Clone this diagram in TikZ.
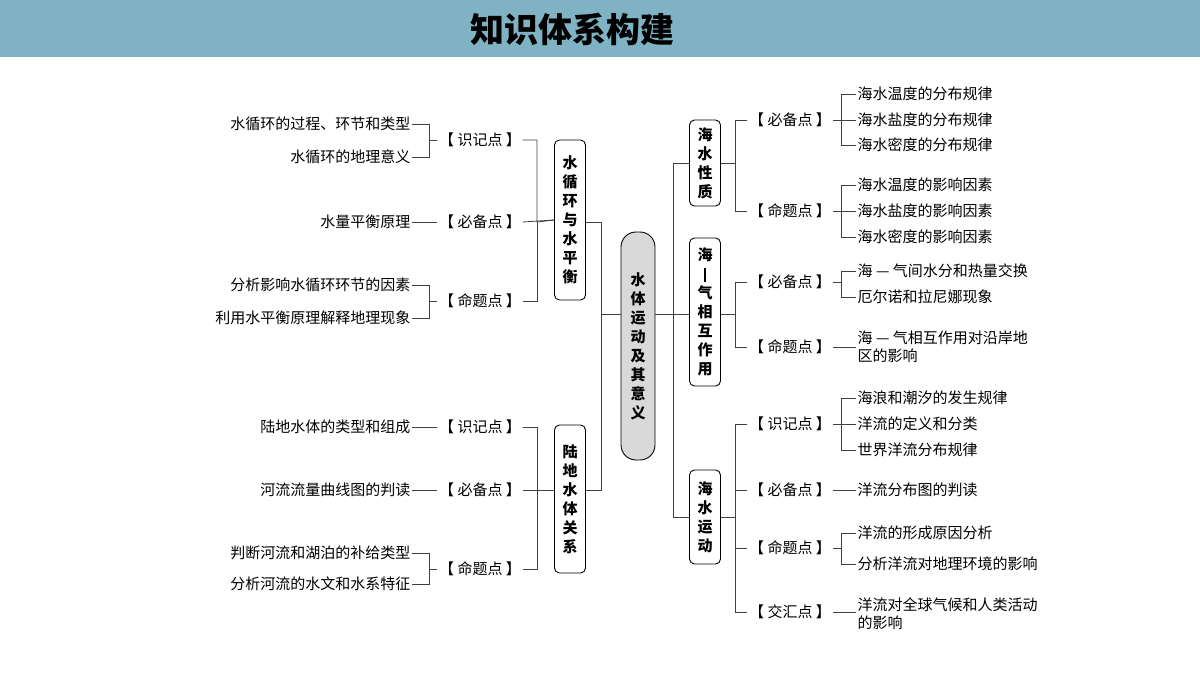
\documentclass[tikz,border=0pt]{standalone}
\usepackage{fontspec}
\setmainfont{Noto Sans CJK SC}
\begin{document}
\begin{tikzpicture}[x=1pt,y=-1pt,
 every node/.style={font=\fontsize{15}{17}\selectfont,inner sep=1.5pt},
 leafR/.style={anchor=east},
 leafL/.style={anchor=west},
 tag/.style={anchor=center,minimum width=80pt},
 box/.style={draw,rounded corners=5pt,thick,minimum width=31pt,align=center,font=\fontsize{15}{19}\bfseries\selectfont,line width=0.9pt},
 ln/.style={line width=0.8pt,draw=black!75}]
\useasboundingbox (0,0) rectangle (1200,675);
\fill[fill={rgb,255:red,127;green,179;blue,195}] (0,0) rectangle (1200,57);
\node[font=\fontsize{34}{36}\bfseries\selectfont] (title) at (572,29) {知识体系构建};
% left upper
\node[leafR] (a1) at (412,124) {水循环的过程、环节和类型};
\node[leafR] (a2) at (412,157) {水循环的地理意义};
\node[tag] (ka) at (480,140) {【 识记点 】};
\node[leafR] (a3) at (412,222) {水量平衡原理};
\node[tag] (kb) at (480,222) {【 必备点 】};
\node[leafR] (a4) at (412,285) {分析影响水循环环节的因素};
\node[leafR] (a5) at (412,318) {利用水平衡原理解释地理现象};
\node[tag] (kc) at (480,301) {【 命题点 】};
\node[box,minimum height=160pt] (B1) at (570,220) {水\\循\\环\\与\\水\\平\\衡};
% left lower
\node[leafR] (b1) at (412,427) {陆地水体的类型和组成};
\node[tag] (kd) at (480,427) {【 识记点 】};
\node[leafR] (b2) at (412,490) {河流流量曲线图的判读};
\node[tag] (ke) at (480,490) {【 必备点 】};
\node[leafR] (b3) at (412,553) {判断河流和湖泊的补给类型};
\node[leafR] (b4) at (412,584) {分析河流的水文和水系特征};
\node[tag] (kf) at (480,569) {【 命题点 】};
\node[box,minimum height=148pt] (B2) at (570,499) {陆\\地\\水\\体\\关\\系};
% center
\node[box,fill=black!15,rounded corners=15pt,minimum height=228pt,minimum width=34pt] (C) at (638,346) {水\\体\\运\\动\\及\\其\\意\\义};
% right boxes
\node[box,minimum height=86pt] (R1) at (705,163) {海\\水\\性\\质};
\node[box,minimum height=148pt] (R2) at (705,312) {海\\\rule[-2pt]{2pt}{14pt}\\气\\相\\互\\作\\用};
\node[box,minimum height=94pt] (R3) at (705,517) {海\\水\\运\\动};
% right tags
\node[tag] (t1) at (790,120) {【 必备点 】};
\node[tag] (t2) at (790,211) {【 命题点 】};
\node[tag] (t3) at (790,282) {【 必备点 】};
\node[tag] (t4) at (790,347) {【 命题点 】};
\node[tag] (t5) at (790,424) {【 识记点 】};
\node[tag] (t6) at (790,490) {【 必备点 】};
\node[tag] (t7) at (790,548) {【 命题点 】};
\node[tag] (t8) at (790,612) {【 交汇点 】};
% right leaves
\node[leafL] (c1) at (856,94) {海水温度的分布规律};
\node[leafL] (c2) at (856,120) {海水盐度的分布规律};
\node[leafL] (c3) at (856,145) {海水密度的分布规律};
\node[leafL] (c4) at (856,185) {海水温度的影响因素};
\node[leafL] (c5) at (856,211) {海水盐度的影响因素};
\node[leafL] (c6) at (856,237) {海水密度的影响因素};
\node[leafL] (c7) at (856,271) {海 — 气间水分和热量交换};
\node[leafL] (c8) at (856,297) {厄尔诺和拉尼娜现象};
\node[leafL,align=left,font=\fontsize{15}{18}\selectfont] (c9) at (856,347) {海 — 气相互作用对沿岸地\\区的影响};
\node[leafL] (c10) at (856,398) {海浪和潮汐的发生规律};
\node[leafL] (c11) at (856,424) {洋流的定义和分类};
\node[leafL] (c12) at (856,450) {世界洋流分布规律};
\node[leafL] (c13) at (856,490) {洋流分布图的判读};
\node[leafL] (c14) at (856,533) {洋流的形成原因分析};
\node[leafL] (c15) at (856,564) {分析洋流对地理环境的影响};
\node[leafL,align=left,font=\fontsize{15}{18}\selectfont] (c16) at (856,614) {洋流对全球气候和人类活动\\的影响};
% connectors left
\draw[ln] (a1.east) -- (429,124) |- (ka.west);
\draw[ln] (a2.east) -- (429,157) |- (ka.west);
\draw[ln] (a3.east) -- (kb.west);
\draw[ln] (a4.east) -- (429,285) |- (kc.west);
\draw[ln] (a5.east) -- (429,318) |- (kc.west);
\draw[ln] (ka.east) -| (537,222) -- (B1.west);
\draw[ln] (kb.east) -- (B1.west);
\draw[ln] (kc.east) -| (537,222);
\draw[ln] (b1.east) -- (kd.west);
\draw[ln] (b2.east) -- (ke.west);
\draw[ln] (b3.east) -- (429,553) |- (kf.west);
\draw[ln] (b4.east) -- (429,584) |- (kf.west);
\draw[ln] (kd.east) -| (537,490) -- (ke.east);
\draw[ln] (537,490) -- (B2.west|-537,490);
\draw[ln] (kf.east) -| (537,490);
\draw[ln] (B1.east|-0,222) -| (601,314) -- (C.west|-0,314);
\draw[ln] (B2.east|-0,490) -| (601,314);
% connectors right
\draw[ln] (C.east|-0,314) -- (R2.west|-0,314);
\draw[ln] (R1.west|-0,163) -| (673,517) -- (R3.west|-0,517);
\draw[ln] (R1.east|-0,163) -- (735,163);
\draw[ln] (t1.west) -| (735,211) -- (t2.west);
\draw[ln] (R2.east|-0,314) -- (735,314);
\draw[ln] (t3.west) -| (735,347) -- (t4.west);
\draw[ln] (R3.east|-0,517) -- (735,517);
\draw[ln] (t5.west) -| (735,612) -- (t8.west);
\draw[ln] (t6.west) -- (735,490);
\draw[ln] (t7.west) -- (735,548);
\draw[ln] (t1.east) -- (841,120);
\draw[ln] (c1.west) -| (841,145) -- (c3.west);
\draw[ln] (c2.west) -- (841,120);
\draw[ln] (t2.east) -- (841,211);
\draw[ln] (c4.west) -| (841,237) -- (c6.west);
\draw[ln] (c5.west) -- (841,211);
\draw[ln] (t3.east) -- (841,282);
\draw[ln] (c7.west) -| (841,297) -- (c8.west);
\draw[ln] (t4.east) -- (c9.west|-0,347);
\draw[ln] (t5.east) -- (841,424);
\draw[ln] (c10.west) -| (841,450) -- (c12.west);
\draw[ln] (c11.west) -- (841,424);
\draw[ln] (t6.east) -- (c13.west);
\draw[ln] (t7.east) -- (841,548);
\draw[ln] (c14.west) -| (841,564) -- (c15.west);
\draw[ln] (t8.east) -- (c16.west|-0,612);
\end{tikzpicture}
\end{document}
